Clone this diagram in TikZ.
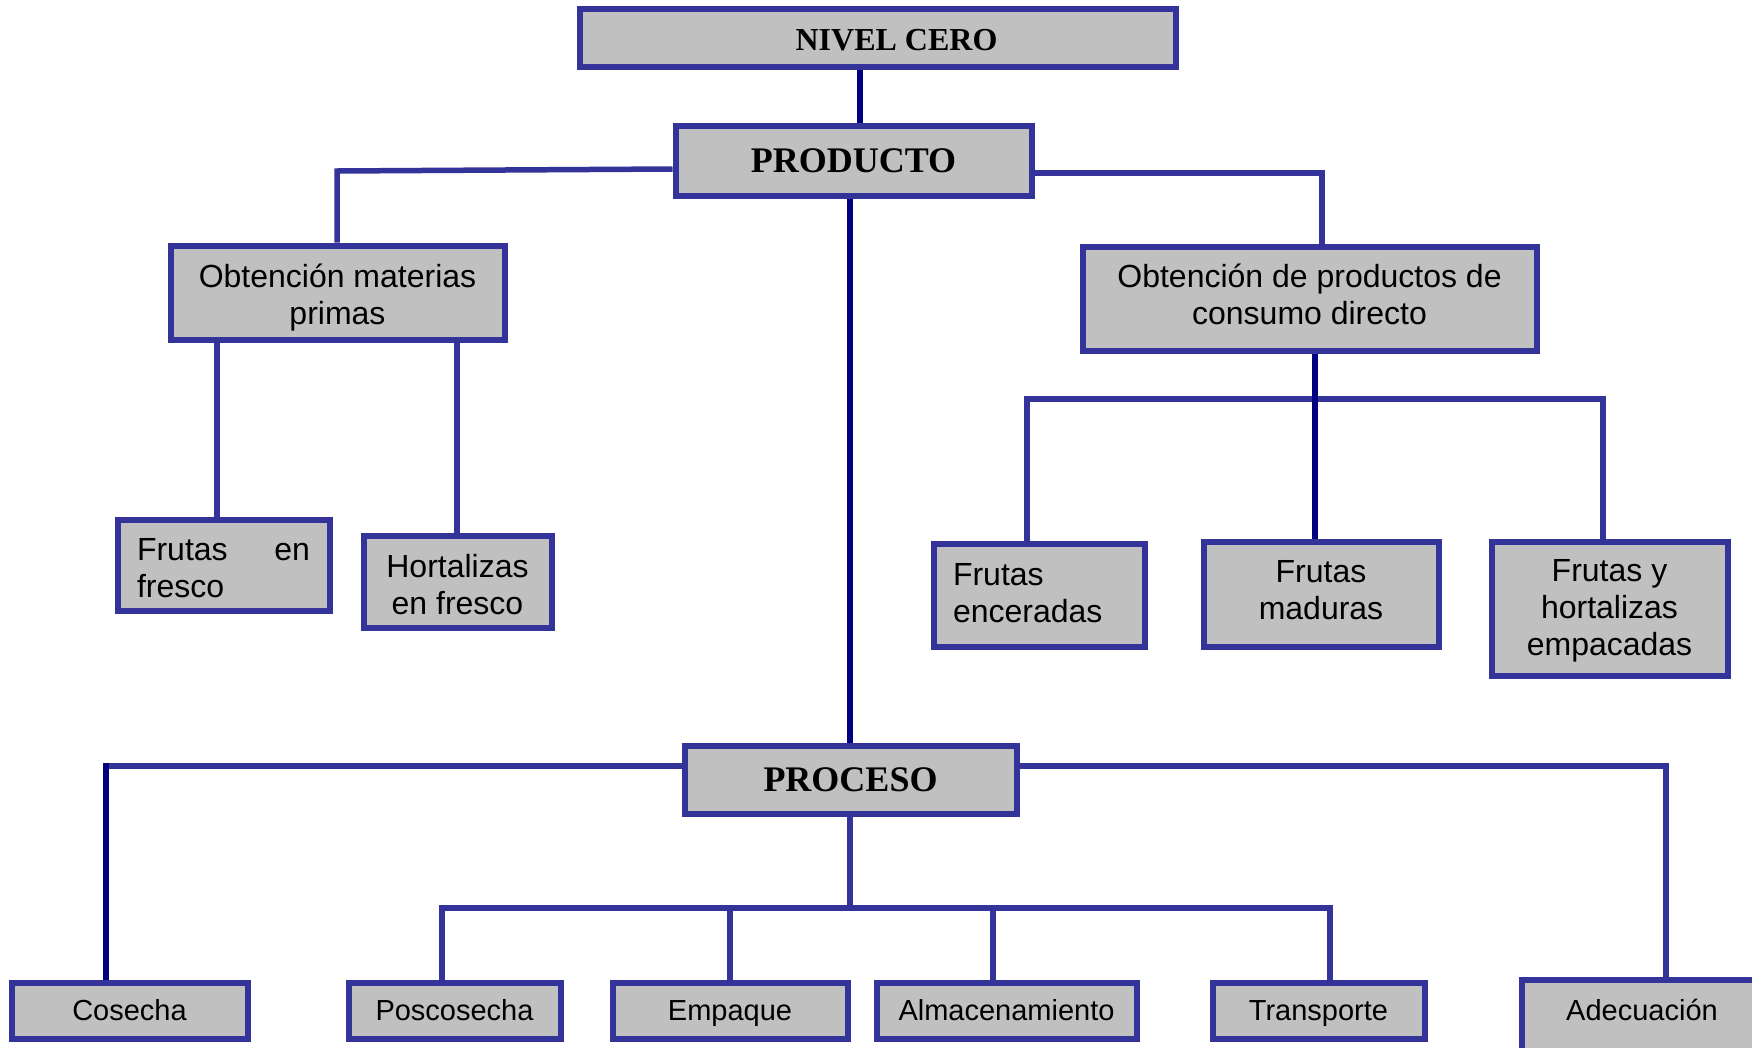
\documentclass[tikz,border=0pt]{standalone}
\usepackage{fontspec}
\setmainfont{Liberation Sans}
\newfontfamily\tnr{Liberation Serif}
\usetikzlibrary{backgrounds}
\definecolor{boxblue}{RGB}{51,51,153}
\definecolor{navyc}{RGB}{0,0,128}
\definecolor{boxgray}{RGB}{192,192,192}
\begin{document}
\begin{tikzpicture}[x=1pt,y=-1pt,
  box/.style={draw=boxblue, fill=boxgray, line width=6pt, inner sep=0pt, align=center,
              font=\fontsize{32}{37}\selectfont, text depth=8pt},
  titlebox/.style={box, font=\fontsize{36}{40}\selectfont\tnr\bfseries},
  bbox/.style={box, font=\fontsize{29}{34}\selectfont, minimum height=56pt, text height=26pt, text depth=6pt},
  conn/.style={draw=boxblue, line width=5.5pt},
  navyline/.style={draw=navyc, line width=6pt}]
\useasboundingbox (0,0) rectangle (1752,1047);
\clip (0,0) rectangle (1752,1047);
% top
\node[box, minimum width=596pt, minimum height=58pt, text height=33pt, font=\fontsize{32}{37}\selectfont\tnr\bfseries] (nivel) at (877.5,38) {\hspace*{38pt}NIVEL CERO};
\node[titlebox, minimum width=356pt, minimum height=70pt, text height=30pt] (producto) at (853.5,161) {PRODUCTO};
% product branch
\node[box, minimum width=334pt, minimum height=94pt, text height=72pt] (omp) at (337.5,292.5) {Obtención materias\\primas};
\node[box, minimum width=212pt, minimum height=91pt, text height=0pt, text depth=10pt, text width=173pt, inner xsep=19.5pt, align=left] (fef) at (223.5,565) {Frutas\hfill en\\fresco};
\node[box, minimum width=188pt, minimum height=92pt, text height=73pt] (hef) at (457.5,581.5) {Hortalizas\\en fresco};
\node[box, minimum width=454pt, minimum height=104pt, text height=60pt] (opc) at (1309.5,298.5) {Obtención de productos de\\consumo directo};
\node[box, minimum width=211pt, minimum height=103pt, text height=0pt, text depth=20pt, text width=172pt, inner xsep=19.5pt, align=left] (fen) at (1039,595) {Frutas\\enceradas};
\node[box, minimum width=235pt, minimum height=105pt, text height=59pt] (fma) at (1321,594) {Frutas\\maduras};
\node[box, minimum width=236pt, minimum height=134pt, text height=101pt] (fhe) at (1609.5,608.5) {Frutas y\\hortalizas\\empacadas};
% process branch
\node[titlebox, minimum width=332pt, minimum height=68pt, text height=31pt] (proceso) at (850.5,779.5) {PROCESO};
\node[bbox, minimum width=236pt] (cos) at (129.5,1010.5) {Cosecha};
\node[bbox, minimum width=212pt] (pos) at (454.5,1010.5) {Poscosecha};
\node[bbox, minimum width=235pt] (emp) at (730,1010.5) {Empaque};
\node[bbox, minimum width=260pt] (alm) at (1006.5,1010.5) {Almacenamiento};
\node[bbox, minimum width=212pt] (tra) at (1318.5,1010.5) {Transporte};
\node[bbox, minimum width=240pt, minimum height=86pt] (ade) at (1642,1023) {};
\node[font=\fontsize{29}{34}\selectfont, inner sep=0pt, text height=26pt, text depth=6pt] (adeT) at (1642,1010.5) {Adecuación};
% connectors
\begin{pgfonlayer}{background}
\draw[navyline] (860,0 |- nivel.south) -- (860,0 |- producto.north);
\draw[conn] (producto.west |- 0,169) -- (337,171) -- (337,0 |- omp.north);
\draw[conn] (producto.east |- 0,173) -- (1322,173) -- (1322,0 |- opc.north);
\draw[navyline] (850,0 |- producto.south) -- (850,0 |- proceso.north);
\draw[conn] (217,0 |- omp.south) -- (217,0 |- fef.north);
\draw[conn] (457,0 |- omp.south) -- (457,0 |- hef.north);
\draw[conn] (1027,0 |- fen.north) -- (1027,399) -- (1603,399) -- (1603,0 |- fhe.north);
\draw[navyline] (1315,0 |- opc.south) -- (1315,0 |- fma.north);
\coordinate (cL) at (106,766);
\draw[conn] (proceso.west |- cL) -- ([xshift=-3pt]cL);
\draw[navyline] ([yshift=2.7pt]cL) -- (cL |- cos.north);
\draw[conn] (proceso.east |- 0,766) -- (1666,766) -- (1666,0 |- ade.north);
\draw[conn] (850,0 |- proceso.south) -- (850,908);
\draw[conn] (442,0 |- pos.north) -- (442,908) -- (1330,908) -- (1330,0 |- tra.north);
\draw[conn] (730,908) -- (emp.north);
\draw[conn] (993,908) -- (993,0 |- alm.north);
\end{pgfonlayer}
\end{tikzpicture}
\end{document}
